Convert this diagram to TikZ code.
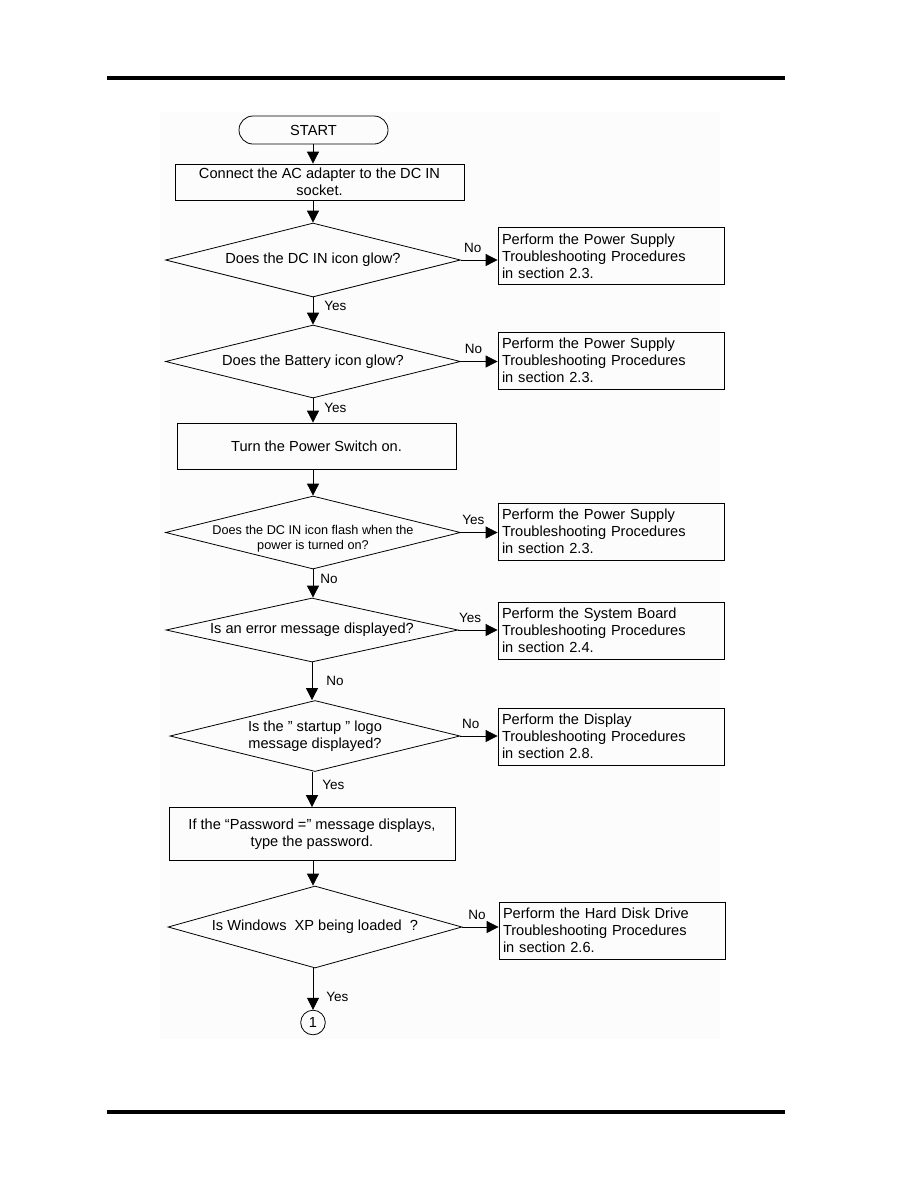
\documentclass[tikz,border=0pt]{standalone}
\usepackage{fontspec}
\setmainfont{Liberation Sans}
\usetikzlibrary{shapes.geometric,arrows.meta}

\begin{document}
\begin{tikzpicture}[x=1bp,y=-1bp,
    every node/.style={font=\fontsize{14.6bp}{17bp}\selectfont},
    proc/.style={draw, line width=0.8bp, align=center, inner sep=2bp},
    ddraw/.style={draw, diamond, line width=0.8bp, inner sep=0pt, minimum width=295bp},
    qtext/.style={align=center},
    result/.style={draw, line width=0.8bp, minimum width=226bp, minimum height=57bp,
        text width=218bp, inner sep=4bp, align=left},
    arr/.style={line width=0.8bp, -{Triangle[length=12bp,width=12bp]}},
    lbl/.style={font=\fontsize{13.5bp}{15bp}\selectfont, inner sep=2bp}]
    \useasboundingbox (0,0) rectangle (918,1188);
    \fill[gray!2] (160,112) rectangle (720,1039);
    % page rules
    \fill (107,76) rectangle (785,80);
    \fill (107,1110) rectangle (785,1114);

    % main column
    \node[draw, line width=0.8bp, rounded corners=14bp, minimum width=149bp, minimum height=28bp] (start) at (313.5,130) {START};
    \node[proc, minimum width=289bp, minimum height=36bp] (connect) at (319.5,182) {Connect the AC adapter to the DC IN\\socket.};
    \node[ddraw, minimum height=74bp, label={[qtext]center:Does the DC IN icon glow?}] (dcin) at (313,260) {};
    \node[ddraw, minimum height=73bp, label={[qtext]center:Does the Battery icon glow?}] (battery) at (313,361.5) {};
    \node[proc, minimum width=279bp, minimum height=46bp] (power) at (316.5,446) {Turn the Power Switch on.};
    \node[ddraw, minimum height=73bp, label={[qtext, font=\fontsize{12.7bp}{15bp}\selectfont, yshift=-6bp]center:Does the DC IN icon flash when the\\power is turned on?}] (flash) at (313,532.5) {};
    \node[ddraw, minimum width=292bp, minimum height=64bp, label={[qtext]center:Is an error message displayed?}] (error) at (312,630) {};
    \node[ddraw, minimum width=290bp, minimum height=71bp, label={[qtext]center:Is the ” startup ” logo\\message displayed?}] (logo) at (315,736) {};
    \node[proc, minimum width=286bp, minimum height=53bp] (password) at (312,834) {If the “Password =” message displays,\\type the password.};
    \node[ddraw, minimum width=294bp, minimum height=82bp, label={[qtext]center:Is Windows\ \ XP being loaded\ \ ?}] (windows) at (315,927) {};
    \node[draw, circle, line width=0.8bp, minimum size=24.6bp, inner sep=0pt] (conn1) at (313,1022.5) {1};

    % right column
    \node[result] (psu1) at (611,256) {Perform the Power Supply\\Troubleshooting Procedures\\in section 2.3.};
    \node[result] (psu2) at (611,360.5) {Perform the Power Supply\\Troubleshooting Procedures\\in section 2.3.};
    \node[result] (psu3) at (611,531.5) {Perform the Power Supply\\Troubleshooting Procedures\\in section 2.3.};
    \node[result] (sysbd) at (611,630.5) {Perform the System Board\\Troubleshooting Procedures\\in section 2.4.};
    \node[result] (disp) at (611,736.5) {Perform the Display\\Troubleshooting Procedures\\in section 2.8.};
    \node[result] (hdd) at (612,930.5) {Perform the Hard Disk Drive\\Troubleshooting Procedures\\in section 2.6.};

    % connectors down
    \draw[arr] (start.south -| dcin.north) -- (connect.north -| dcin.north);
    \draw[arr] (connect.south -| dcin.north) -- (dcin.north);
    \draw[arr] (dcin.south) -- (battery.north) node[lbl, pos=0.32, right=9bp] {Yes};
    \draw[arr] (battery.south) -- (power.north -| battery.south) node[lbl, pos=0.4, right=9bp] {Yes};
    \draw[arr] (power.south -| flash.north) -- (flash.north);
    \draw[arr] (flash.south) -- (error.north -| flash.south) node[lbl, pos=0.34, right=5bp] {No};
    \draw[arr] (error.south) -- (logo.north -| error.south) node[lbl, pos=0.5, right=12bp] {No};
    \draw[arr] (logo.south -| password.north) -- (password.north) node[lbl, pos=0.36, right=8bp] {Yes};
    \draw[arr] (password.south -| conn1.north) -- (windows.north -| conn1.north);
    \draw[arr] (windows.south -| conn1.north) -- (conn1.north) node[lbl, pos=0.68, right=11bp] {Yes};

    % connectors right
    \draw[arr] (dcin.east) -- (dcin.east -| psu1.west) node[lbl, pos=0.32, above=5bp] {No};
    \draw[arr] (battery.east) -- (battery.east -| psu2.west) node[lbl, pos=0.34, above=5bp] {No};
    \draw[arr] (flash.east) -- (flash.east -| psu3.west) node[lbl, pos=0.34, above=5bp] {Yes};
    \draw[arr] (error.east) -- (error.east -| sysbd.west) node[lbl, pos=0.3, above=5bp] {Yes};
    \draw[arr] (logo.east) -- (logo.east -| disp.west) node[lbl, pos=0.28, above=5bp] {No};
    \draw[arr] (windows.east) -- (windows.east -| hdd.west) node[lbl, pos=0.4, above=5bp] {No};
\end{tikzpicture}
\end{document}
